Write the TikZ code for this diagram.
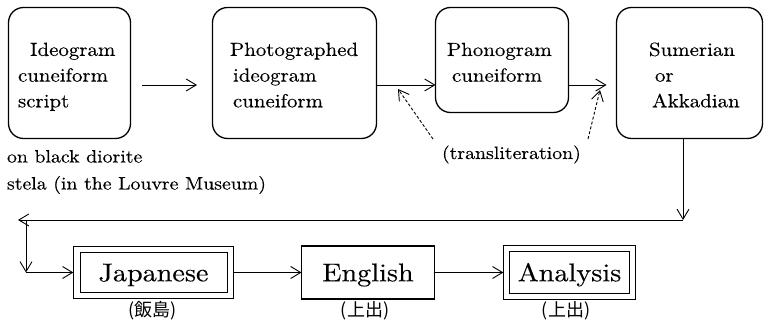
\documentclass[tikz,border=0pt]{standalone}
\usepackage{fontspec}
\setmainfont{lmroman10-regular.otf}[FakeStretch=1.1,FakeBold=0.3]
\newfontfamily\jpfont{Noto Sans CJK JP}
\usetikzlibrary{arrows.meta}

\begin{document}
\begin{tikzpicture}[x=1pt,y=-1pt,
  every node/.style={inner sep=0pt, outer sep=0pt},
  rbox/.style={draw, line width=1.3pt, rounded corners=15pt},
  sbox/.style={draw, line width=1.1pt},
  obox/.style={draw, line width=0.9pt},
  inner frame/.style={line width=0.9pt},
  boxtext/.style={font=\fontsize{19}{25.7}\selectfont, align=left, anchor=base west},
  bigtext/.style={font=\fontsize{25.6}{30}\selectfont, text height=17.5pt, text depth=0pt},
  note/.style={font=\fontsize{18}{27}\selectfont, align=left, anchor=base west},
  who/.style={font=\jpfont\fontsize{18}{20}\selectfont},
  conn/.style={line width=0.9pt, -{Straight Barb[length=10pt,width=12pt]}},
  dconn/.style={conn, dash pattern=on 3pt off 2pt},
]
\useasboundingbox (0,0) rectangle (764,323);

% upper row: rounded boxes
\node[rbox, minimum width=122pt, minimum height=131pt] (ideo)  at (69.5,73) {};
\node[rbox, minimum width=164pt, minimum height=131pt] (photo) at (294.5,73) {};
\node[rbox, minimum width=133pt, minimum height=105pt] (phono) at (502,60) {};
\node[rbox, minimum width=146pt, minimum height=131pt] (sum)   at (689.5,73) {};

% their texts (anchored at the baseline of the last line)
\node[boxtext] (ideoT)  at (18,107.3)  {\hspace{12pt}Ideogram\\cuneiform\\script};
\node[boxtext] (photoT) at (230,107.3) {Photographed\\\hspace{3pt}ideogram\\\hspace{3pt}cuneiform};
\node[boxtext] (phonoT) at (447,81.7)  {Phonogram\\\hspace{5pt}cuneiform};
\node[boxtext] (sumT)   at (649,107.3) {Sumerian\\\hspace{6pt}or\\\hspace{3pt}Akkadian};

% notes
\node[note] (stela) at (7,189.5) {on black diorite\\stela (in the Louvre Museum)};
\node[note] (translit) at (442,159) {(transliteration)};

% lower row: framed boxes
\node[obox, bigtext, minimum width=160.2pt, minimum height=51.5pt] (jp) at (153.5,272.5) {Japanese};
\node[sbox, bigtext, minimum width=133pt, minimum height=53pt] (en) at (368,272.5) {English};
\node[obox, bigtext, minimum width=132.2pt, minimum height=53.2pt] (an) at (569.5,272.5) {Analysis};
\draw[inner frame] ([shift={(6.8,6)}]jp.north west) rectangle ([shift={(-6,-6)}]jp.south east);
\draw[inner frame] ([shift={(6,6)}]an.north west) rectangle ([shift={(-6,-6)}]an.south east);

\node[who] (jpW) at ([xshift=-1pt,yshift=-12pt]jp.south) {(飯島)};
\node[who] (enW) at ([xshift=-3pt,yshift=-12pt]en.south) {(上出)};
\node[who] (anW) at ([xshift=-3.5pt,yshift=-11.5pt]an.south) {(上出)};

% upper connectors
\coordinate (r1) at ([yshift=-12pt]ideo.east);
\draw[conn, shorten <=11.5pt, shorten >=15.5pt] (r1) -- (r1 -| photo.west);
\draw[conn] (r1 -| photo.east) -- (r1 -| phono.west);
\draw[conn, shorten >=10pt] (r1 -| phono.east) -- (r1 -| sum.west);

% transliteration hints
\coordinate (hint1) at (433,139);
\coordinate (tip1)  at (398,89);
\coordinate (hint2) at (588,139);
\coordinate (tip2)  at (600,90);
\draw[dconn] (hint1) -- (tip1);
\draw[dconn] (hint2) -- (tip2);

% return path to the lower row
\coordinate (drop) at ([xshift=-6.5pt]sum.south);
\coordinate (turn) at (683,220);
\coordinate (back) at (18,220);
\coordinate (down) at (26,220);
\coordinate (feed) at (26,272.5);
\draw[conn] (drop) -- (turn);
\draw[conn] (turn) -- (back);
\draw[conn] (down) -- (feed);
\draw[conn] (feed) -- (jp.west);

% lower connectors
\draw[conn] (jp.east) -- (en.west);
\draw[conn] (en.east) -- (an.west);
\end{tikzpicture}
\end{document}
